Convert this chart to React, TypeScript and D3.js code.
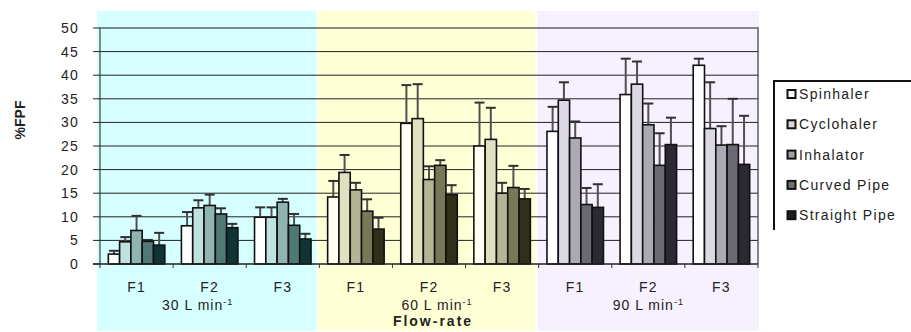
import React from "react";
import * as d3 from "d3";

const formulations = ["F1", "F2", "F3"];
const flowRates = ["30 L min", "60 L min", "90 L min"];
const seriesNames = ["Spinhaler", "Cyclohaler", "Inhalator", "Curved Pipe", "Straight Pipe"];
const yTicks = [0, 5, 10, 15, 20, 25, 30, 35, 40, 45, 50];

// values in order: 30 F1, F2, F3, 60 F1, F2, F3, 90 F1, F2, F3
const spinhaler = [2.1, 8.1, 9.9, 14.2, 29.8, 25.0, 28.1, 35.9, 42.1];
const spinhalerErr = [0.7, 2.9, 2.1, 3.4, 8.1, 9.2, 5.2, 7.6, 1.4];
const cyclohaler = [4.7, 11.9, 9.9, 19.4, 30.8, 26.4, 34.7, 38.1, 28.7];
const cyclohalerErr = [1.0, 1.6, 2.1, 3.7, 7.3, 6.7, 3.8, 4.8, 9.8];
const inhalator = [7.1, 12.4, 13.1, 15.7, 17.9, 15.0, 26.7, 29.5, 25.2];
const inhalatorErr = [3.1, 2.3, 0.7, 1.5, 2.8, 2.2, 3.5, 4.5, 4.0];
const curvedPipe = [4.8, 10.6, 8.2, 11.2, 20.9, 16.2, 12.6, 20.9, 25.3];
const curvedPipeErr = [0.3, 1.2, 2.4, 2.5, 1.1, 4.6, 3.5, 6.8, 9.7];
const straightPipe = [4.0, 7.7, 5.3, 7.4, 14.7, 13.8, 12.0, 25.3, 21.1];
const straightPipeErr = [2.6, 0.8, 1.1, 2.4, 2.0, 2.1, 4.9, 5.7, 10.3];

const seriesValues = [spinhaler, cyclohaler, inhalator, curvedPipe, straightPipe];
const seriesErrors = [spinhalerErr, cyclohalerErr, inhalatorErr, curvedPipeErr, straightPipeErr];

// colours per flow-rate panel
const panelBg = ["#d6ffff", "#ffffd6", "#f6f0ff"];
const panelBarColors = [
  ["#ffffff", "#c0e2de", "#90b4b0", "#507874", "#103434"],
  ["#fffff4", "#e0e0c0", "#b4b494", "#787858", "#303018"],
  ["#ffffff", "#dcd8e4", "#aca8b4", "#6c6874", "#2c2834"],
];
const legendColors = ["#ffffff", "#d8d8d8", "#a0a0a0", "#707070", "#202020"];

const W = 911;
const H = 332;
const left = 100;
const right = 758;
const top = 28;
const bottom = 264;
const FONT = "'Liberation Sans', Arial, sans-serif";

export default function App() {
  const cats = d3.range(9);
  const x0 = d3.scaleBand<number>().domain(cats).range([left, right]).paddingInner(0).paddingOuter(0);
  const x1 = d3.scaleBand<number>().domain(d3.range(5)).range([0, x0.bandwidth()]).paddingInner(0).paddingOuter(0.735);
  const y = d3.scaleLinear().domain([0, 50]).range([bottom, top]);
  const step = x0.step();
  const bound = (k: number) => left + k * step;

  const panelStartPad = [3, 1.5, 1.5];
  const panelEndPad = [3, 3, -1];

  return (
    <svg width={W} height={H} style={{ position: "absolute", left: 0, top: 0, background: "#fff" }} fontFamily={FONT}>
      {/* panels */}
      {flowRates.map((_, i) => (
        <rect key={"p" + i} x={bound(3 * i) - panelStartPad[i]} y={11}
          width={bound(3 * i + 3) - panelEndPad[i] - (bound(3 * i) - panelStartPad[i])} height={320}
          fill={panelBg[i]} />
      ))}
      {/* gridlines */}
      {yTicks.slice(1, -1).map((t) => (
        <line key={"g" + t} x1={left} x2={right} y1={y(t)} y2={y(t)} stroke="#222" strokeWidth={1} />
      ))}
      {/* frame */}
      <path d={`M${left},${bottom} V${top} H${right} V${bottom}`} fill="none" stroke="rgba(60,60,60,0.6)" strokeWidth={2} />
      {/* bars */}
      {seriesValues.map((vals, s) =>
        vals.map((v, c) => {
          const panel = Math.floor(c / 3);
          const bx = (x0(c) as number) + (x1(s) as number);
          const bw = x1.bandwidth();
          const e = seriesErrors[s][c];
          const cx = bx + bw / 2;
          return (
            <g key={`b${s}-${c}`}>
              <line x1={cx} x2={cx} y1={y(v)} y2={y(v + e)} stroke="#505050" strokeWidth={2} />
              <line x1={cx - 5} x2={cx + 5} y1={y(v + e)} y2={y(v + e)} stroke="#303030" strokeWidth={2} />
              <rect x={bx} y={y(v)} width={bw} height={bottom - y(v)} fill={panelBarColors[panel][s]}
                stroke="#111" strokeWidth={1.6} />
            </g>
          );
        })
      )}
      {/* x axis */}
      <line x1={left - 7} x2={right} y1={bottom} y2={bottom} stroke="#222" strokeWidth={1.5} />
      {d3.range(10).map((k) => (
        <line key={"xt" + k} x1={bound(k)} x2={bound(k)} y1={bottom} y2={bottom + 4} stroke="#333" strokeWidth={1} />
      ))}
      {/* y ticks */}
      {yTicks.map((t) => (
        <g key={"yt" + t}>
          <line x1={93} x2={left} y1={y(t)} y2={y(t)} stroke="#222" strokeWidth={1} />
          <text x={79} y={y(t)} dy="0.36em" textAnchor="end" fontSize={14} fill="#222" letterSpacing={1.2}>{t}</text>
        </g>
      ))}
      <text transform={`translate(25,120) rotate(-90)`} textAnchor="middle" fontSize={14} fontWeight="bold" fill="#222">%FPF</text>
      {/* category labels */}
      {cats.map((c) => (
        <text key={"cl" + c} x={(x0(c) as number) + x0.bandwidth() / 2} y={291.5} textAnchor="middle" fontSize={14}
          fill="#222" letterSpacing={1.2}>{formulations[c % 3]}</text>
      ))}
      {flowRates.map((f, i) => {
        const offs = [-12, 8, 0];
        const cx = (x0(3 * i + 1) as number) + x0.bandwidth() / 2 + offs[i];
        return (
          <text key={"fr" + i} x={cx} y={310} textAnchor="middle" fontSize={14} fill="#222" letterSpacing={1}>
            {f}<tspan fontSize={9} dy={-5}>-1</tspan>
          </text>
        );
      })}
      <text x={433} y={326} textAnchor="middle" fontSize={14} fontWeight="bold" fill="#222" letterSpacing={2}>Flow-rate</text>
      {/* legend */}
      <path d={`M774,230 V81 H${W}`} fill="none" stroke="#111" strokeWidth={2} />
      {seriesNames.map((n, i) => {
        const ly = 94 + i * 30.3;
        return (
          <g key={"lg" + i}>
            <rect x={787.5} y={ly - 4} width={8} height={8} fill={legendColors[i]} stroke="#111" strokeWidth={2} />
            <text x={799} y={ly} dy="0.36em" fontSize={14} fill="#222" letterSpacing={1.3}>{n}</text>
          </g>
        );
      })}
    </svg>
  );
}
